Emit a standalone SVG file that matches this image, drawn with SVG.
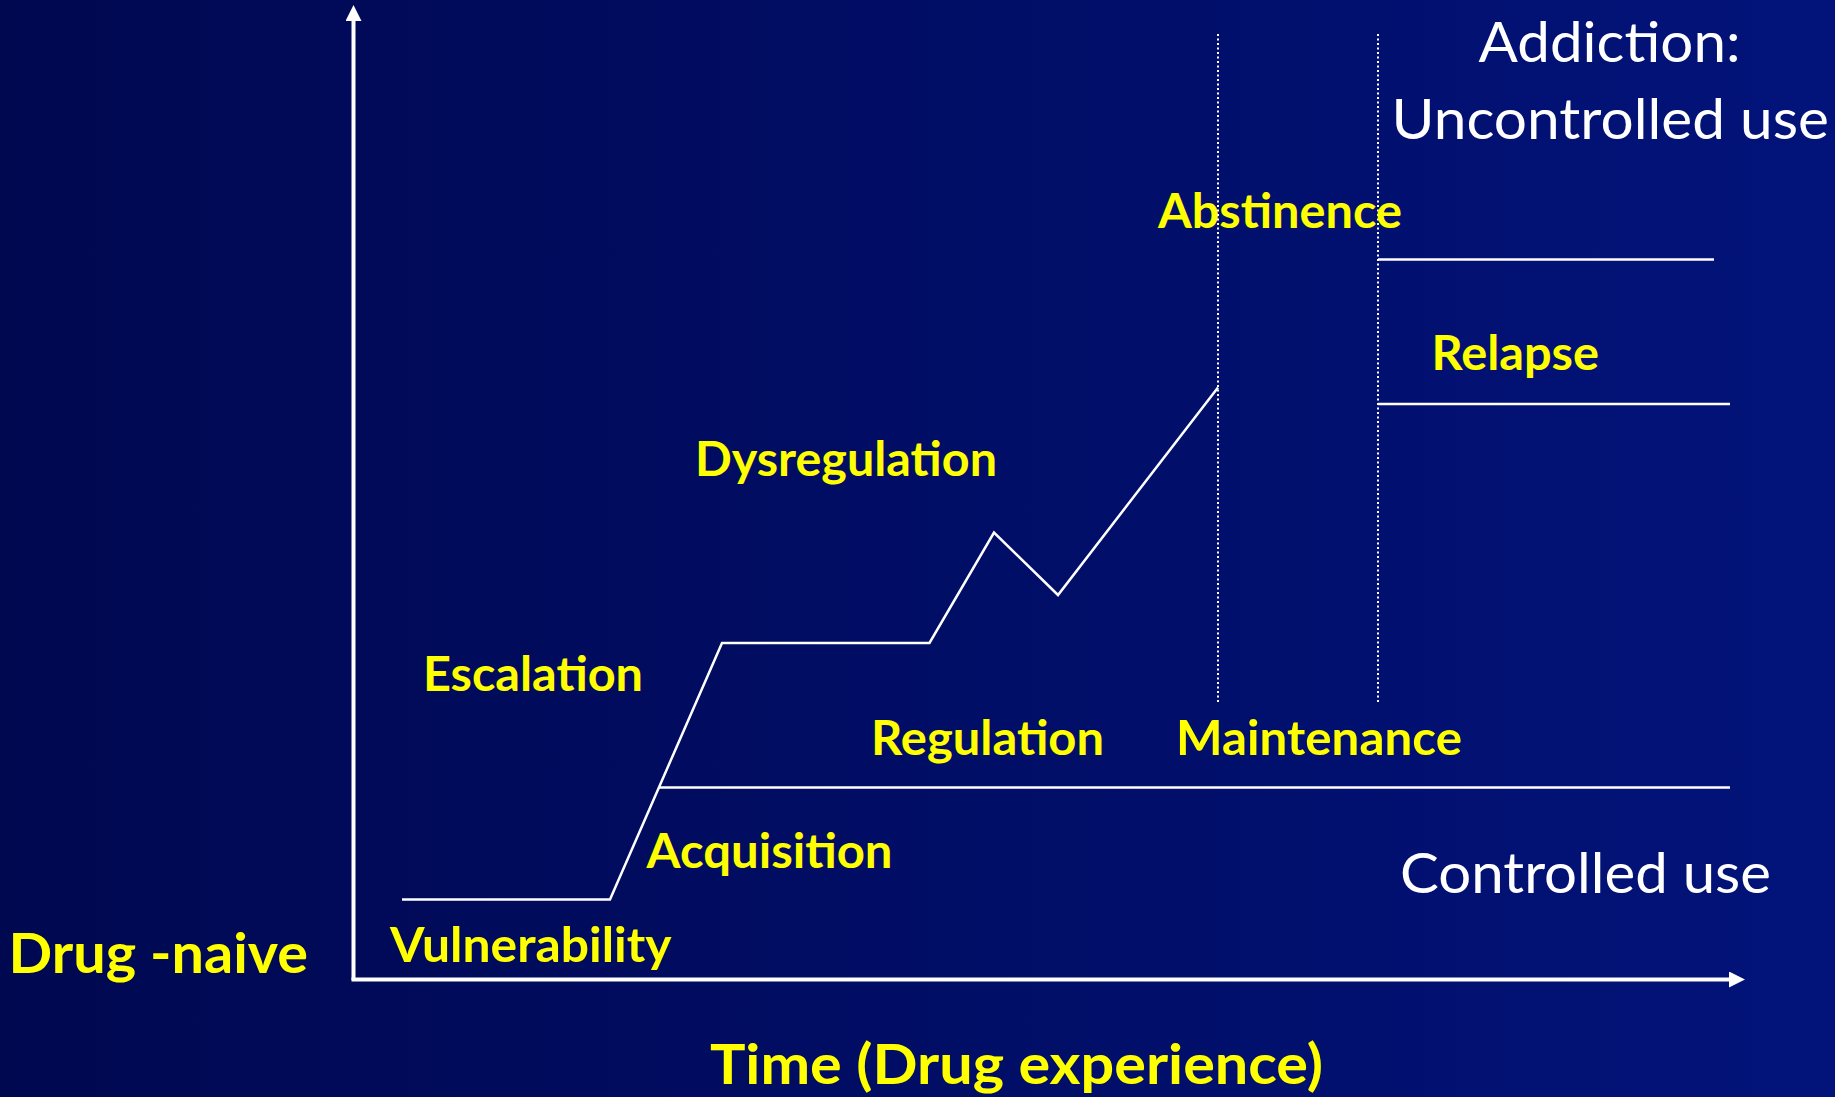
<svg xmlns="http://www.w3.org/2000/svg" width="1835" height="1097" viewBox="0 0 1835 1097">
  <defs>
    <linearGradient id="bg" x1="0" y1="0" x2="1" y2="0">
      <stop offset="0" stop-color="#000850"/>
      <stop offset="1" stop-color="#02137A"/>
    </linearGradient>
    <marker id="arrow" viewBox="0 0 16 16" refX="1" refY="8" markerWidth="16" markerHeight="16" markerUnits="userSpaceOnUse" orient="auto">
      <path d="M0,0 L16,8 L0,16 Z" fill="#ffffff"/>
    </marker>
    <style>
      .stage { font-family: Lato, "Open Sans", "Liberation Sans", sans-serif; font-weight: 700; fill: #FFFF00; font-size: 47px; }
      .big { font-size: 56px; }
      .state { font-family: Lato, "Open Sans", "Liberation Sans", sans-serif; font-weight: 400; fill: #ffffff; font-size: 57px; }
      .axis { stroke: #ffffff; stroke-width: 4; fill: none; }
      .trace { stroke: #ffffff; stroke-width: 2.5; fill: none; stroke-linejoin: miter; }
      .divider { stroke: #ffffff; stroke-width: 2; stroke-dasharray: 2 2.5; fill: none; }
    </style>
  </defs>

  <rect width="1835" height="1097" fill="url(#bg)"/>

  <g id="connectors">
    <!-- axes -->
    <path id="y-axis" class="axis" d="M353.5,980 L353.5,20" marker-end="url(#arrow)"/>
    <path id="x-axis" class="axis" d="M351.5,979.5 L1730,979.5" marker-end="url(#arrow)"/>
    <!-- phase dividers -->
    <line class="divider" x1="1218" y1="34" x2="1218" y2="704"/>
    <line class="divider" x1="1378" y1="34" x2="1378" y2="704"/>
    <!-- drug-use trajectory -->
    <polyline class="trace" points="402,899.5 610,899.5 722,643 929.5,643 994,532.5 1058,595 1218,387.5"/>
    <!-- level lines -->
    <line class="trace" x1="659" y1="787.5" x2="1730" y2="787.5"/>
    <line class="trace" x1="1378" y1="259.5" x2="1714" y2="259.5"/>
    <line class="trace" x1="1378" y1="404" x2="1730" y2="404"/>
  </g>

  <g id="addiction">
    <text class="state" x="1478.5" y="61.5" textLength="262" lengthAdjust="spacingAndGlyphs">Addiction:</text>
    <text class="state" x="1391.5" y="138.5" textLength="437.5" lengthAdjust="spacingAndGlyphs">Uncontrolled use</text>
  </g>
  <g id="controlled-use">
    <text class="state" x="1400" y="892.5" textLength="371" lengthAdjust="spacingAndGlyphs">Controlled use</text>
  </g>

  <g id="abstinence"><text class="stage" x="1158" y="227.5" textLength="244" lengthAdjust="spacingAndGlyphs">Abstinence</text></g>
  <g id="relapse"><text class="stage" x="1431.5" y="370" textLength="167.5" lengthAdjust="spacingAndGlyphs">Relapse</text></g>
  <g id="dysregulation"><text class="stage" x="695" y="476" textLength="302" lengthAdjust="spacingAndGlyphs">Dysregulation</text></g>
  <g id="escalation"><text class="stage" x="423" y="690.5" textLength="220" lengthAdjust="spacingAndGlyphs">Escalation</text></g>
  <g id="regulation"><text class="stage" x="871" y="755" textLength="233" lengthAdjust="spacingAndGlyphs">Regulation</text></g>
  <g id="maintenance"><text class="stage" x="1176" y="754.5" textLength="286" lengthAdjust="spacingAndGlyphs">Maintenance</text></g>
  <g id="acquisition"><text class="stage" x="646.5" y="867.5" textLength="246" lengthAdjust="spacingAndGlyphs">Acquisition</text></g>
  <g id="vulnerability"><text class="stage" x="390" y="961.5" textLength="281.5" lengthAdjust="spacingAndGlyphs">Vulnerability</text></g>
  <g id="drug-naive"><text class="stage big" x="8.5" y="973" textLength="299.5" lengthAdjust="spacingAndGlyphs">Drug -naive</text></g>
  <g id="time-label"><text class="stage big" x="710" y="1084" textLength="613" lengthAdjust="spacingAndGlyphs">Time (Drug experience)</text></g>
</svg>
